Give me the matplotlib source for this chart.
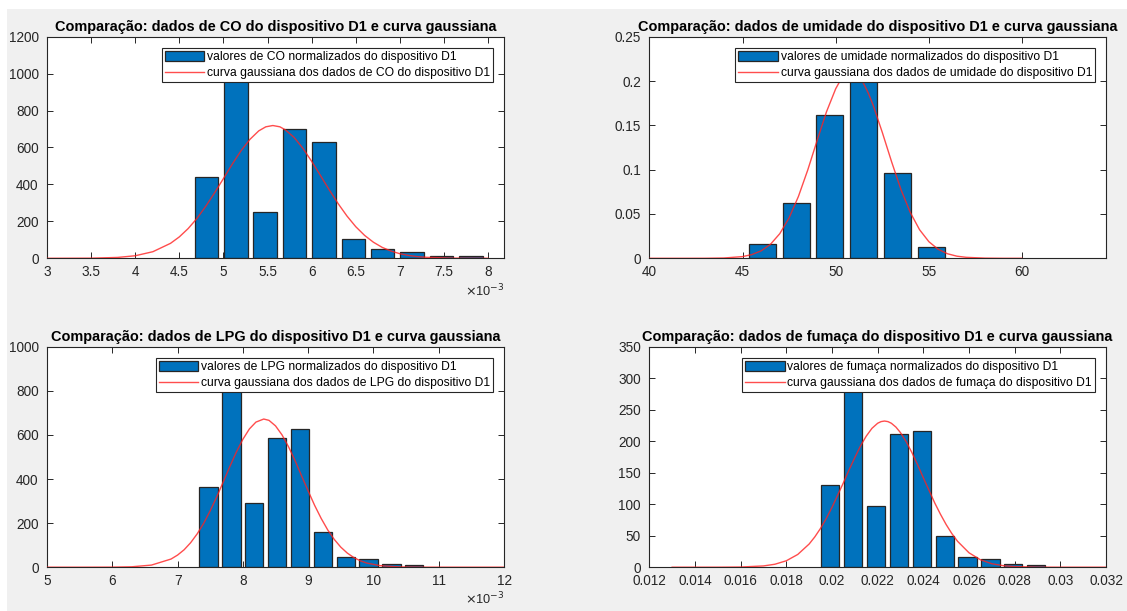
import matplotlib.pyplot as plt
from matplotlib.patches import Rectangle
from matplotlib.ticker import FuncFormatter
import numpy as np

plt.rcParams['font.family'] = ['Liberation Sans', 'DejaVu Sans']

# --- CO ---
co_centros = [4.807e-3, 5.140e-3, 5.473e-3, 5.806e-3, 6.139e-3, 6.472e-3, 6.805e-3, 7.138e-3, 7.471e-3, 7.804e-3]
co_valores = [440, 1040, 250, 700, 632, 104, 50, 33, 13, 11]
co_curva_x = [3.0e-3, 3.5e-3, 3.8e-3, 4.0e-3, 4.2e-3, 4.4e-3, 4.5e-3, 4.6e-3, 4.7e-3, 4.8e-3, 4.9e-3, 5.0e-3,
              5.1e-3, 5.2e-3, 5.3e-3, 5.4e-3, 5.48e-3, 5.56e-3, 5.64e-3, 5.7e-3, 5.8e-3, 5.9e-3, 6.0e-3,
              6.1e-3, 6.2e-3, 6.3e-3, 6.4e-3, 6.5e-3, 6.6e-3, 6.7e-3, 6.8e-3, 6.9e-3, 7.0e-3, 7.1e-3,
              7.2e-3, 7.3e-3, 7.6e-3, 8.0e-3]
co_curva_y = [0, 0.7, 4.7, 13.8, 35.7, 81, 116, 161, 216, 282, 355, 432,
              510, 583, 644, 690, 712, 719, 712, 696, 655, 596, 525,
              448, 370, 296, 229, 171, 124, 87, 59, 39, 24.8, 15.3,
              9.1, 5.3, 0.8, 0]

# --- umidade ---
um_centros = [46.08, 47.90, 49.66, 51.48, 53.30, 55.13]
um_valores = [0.0161, 0.0624, 0.1613, 0.21, 0.0962, 0.0128]
um_curva_x = [40, 42, 43, 44, 45, 45.5, 46, 46.5, 47, 47.5, 48, 48.5, 49, 49.5, 50, 50.25, 50.5, 50.65,
              50.82, 51, 51.25, 51.5, 51.75, 52, 52.5, 53, 53.5, 54, 54.5, 55, 55.5, 56, 56.5, 57, 58, 59, 60]
um_curva_y = [0, 0, 0.00004, 0.00034, 0.0019, 0.0042, 0.0084, 0.0158, 0.0278, 0.0456, 0.0698, 0.0996,
              0.1327, 0.165, 0.1913, 0.2008, 0.207, 0.2092, 0.21, 0.209, 0.2047, 0.197, 0.1863, 0.1732,
              0.142, 0.1088, 0.0776, 0.0517, 0.0322, 0.0187, 0.0101, 0.0051, 0.0024, 0.0011, 0.0002, 0, 0]

# --- LPG ---
lpg_centros = [7.475e-3, 7.825e-3, 8.175e-3, 8.525e-3, 8.875e-3, 9.225e-3, 9.575e-3, 9.925e-3, 10.275e-3, 10.625e-3]
lpg_valores = [363, 880, 291, 587, 627, 160, 46, 37, 16, 10]
lpg_curva_x = [5.0e-3, 5.5e-3, 6.0e-3, 6.3e-3, 6.6e-3, 6.9e-3, 7.0e-3, 7.1e-3, 7.2e-3, 7.3e-3, 7.4e-3,
               7.5e-3, 7.6e-3, 7.7e-3, 7.8e-3, 7.9e-3, 8.0e-3, 8.1e-3, 8.2e-3, 8.32e-3, 8.4e-3, 8.5e-3,
               8.6e-3, 8.7e-3, 8.8e-3, 8.9e-3, 9.0e-3, 9.1e-3, 9.2e-3, 9.3e-3, 9.4e-3, 9.5e-3, 9.6e-3,
               9.7e-3, 9.8e-3, 9.9e-3, 10.1e-3, 10.4e-3, 10.8e-3, 11.5e-3, 12.0e-3]
lpg_curva_y = [0, 0, 0.3, 1.9, 9.6, 37, 55, 79, 111, 151, 199,
               256, 319, 387, 456, 522, 580, 627, 658, 672, 666, 641,
               600, 546, 483, 414, 346, 280, 221, 169, 126, 91, 64,
               43.6, 28.9, 18.6, 7.1, 1.3, 0.1, 0, 0]

# --- fumaca ---
fu_centros = [0.01992, 0.02092, 0.02193, 0.02293, 0.02393, 0.02494, 0.02594, 0.02694, 0.02794, 0.02895]
fu_valores = [131, 300, 97, 212, 216, 50, 16, 13, 5, 3.5]
fu_curva_x = [0.013, 0.015, 0.016, 0.017, 0.0175, 0.018, 0.0185, 0.019, 0.01925, 0.0195, 0.01975, 0.020,
              0.0205, 0.02075, 0.021, 0.02125, 0.0215, 0.02175, 0.022, 0.02215, 0.0223, 0.02245, 0.0226,
              0.0228, 0.023, 0.02325, 0.0235, 0.02375, 0.024, 0.02425, 0.0245, 0.02475, 0.025, 0.02525,
              0.0255, 0.026, 0.0265, 0.027, 0.0275, 0.028, 0.029, 0.030, 0.032]
fu_curva_y = [0, 0.03, 0.28, 2.0, 4.7, 10.2, 20.2, 36.8, 48.2, 61.7, 77.3, 94.9,
              134, 154.6, 174, 192.6, 208, 220.4, 228.5, 231.1, 232, 231.1, 228.5,
              222.4, 213.6, 199.2, 182, 162.6, 142, 122, 102, 84.1, 67.7, 53.3,
              41.1, 22.9, 11.8, 5.5, 2.4, 1.0, 0.1, 0, 0]

W, H = 1127, 611
fig = plt.figure(figsize=(W / 100, H / 100), dpi=100, facecolor='white')
fig.patches.append(Rectangle((7 / W, 0), 1 - 7 / W, (H - 9) / H, transform=fig.transFigure,
                             facecolor='#f0f0f0', edgecolor='none', zorder=-10))

azul = '#0072BD'
cinza = '#262626'


def px_axes(left, top, right, bottom):
    return [left / W, 1 - bottom / H, (right - left) / W, (bottom - top) / H]


paineis = [
    dict(pos=px_axes(47, 36.7, 504, 258.3), nome='CO', c=co_centros, v=co_valores, cx=co_curva_x, cy=co_curva_y,
         larg=0.2664e-3, xlim=(3e-3, 8.18e-3), xt=np.arange(3, 8.01, 0.5) * 1e-3, ylim=(0, 1200),
         yt=range(0, 1201, 200), esc=1e3),
    dict(pos=px_axes(649.3, 36.7, 1106, 258.3), nome='umidade', c=um_centros, v=um_valores, cx=um_curva_x,
         cy=um_curva_y, larg=1.46, xlim=(40, 64.5), xt=range(40, 61, 5), ylim=(0, 0.25),
         yt=np.arange(0, 0.251, 0.05), esc=1),
    dict(pos=px_axes(47, 346.7, 504, 567.2), nome='LPG', c=lpg_centros, v=lpg_valores, cx=lpg_curva_x,
         cy=lpg_curva_y, larg=0.28e-3, xlim=(5e-3, 12e-3), xt=np.arange(5, 12.01, 1) * 1e-3, ylim=(0, 1000),
         yt=range(0, 1001, 200), esc=1e3),
    dict(pos=px_axes(649.3, 346.7, 1106, 567.2), nome='fumaça', c=fu_centros, v=fu_valores, cx=fu_curva_x,
         cy=fu_curva_y, larg=0.8e-3, xlim=(0.012, 0.032), xt=np.arange(0.012, 0.0321, 0.002), ylim=(0, 350),
         yt=range(0, 351, 50), esc=1),
]

for p in paineis:
    ax = fig.add_axes(p['pos'])
    ax.set_facecolor('white')
    barras = ax.bar(p['c'], p['v'], width=p['larg'], color=azul, edgecolor=cinza, linewidth=0.9, zorder=2,
                    label='valores de %s normalizados do dispositivo D1' % p['nome'])
    linha, = ax.plot(p['cx'], p['cy'], color='#ff2020', lw=1.0, alpha=0.8, zorder=3,
                     label='curva gaussiana dos dados de %s do dispositivo D1' % p['nome'])
    ax.set_xlim(*p['xlim'])
    ax.set_ylim(*p['ylim'])
    ax.set_xticks(p['xt'])
    ax.set_yticks(p['yt'])
    esc = p['esc']
    ax.xaxis.set_major_formatter(FuncFormatter(lambda v, pos, e=esc: '%g' % round(v * e, 6)))
    ax.yaxis.set_major_formatter(FuncFormatter(lambda v, pos: '%g' % round(v, 6)))
    ax.tick_params(direction='in', top=True, right=True, length=4, width=0.7, colors=cinza,
                   labelsize=9.8, pad=4)
    ax.tick_params(axis='y', pad=6)
    ax.tick_params(axis='x', pad=5)
    for s in ax.spines.values():
        s.set_color(cinza)
        s.set_linewidth(0.8)
    ax.set_title('Comparação: dados de %s do dispositivo D1 e curva gaussiana' % p['nome'],
                 fontsize=10.45, fontweight='bold', pad=4)
    if esc != 1:
        ax.text(1.0, -0.183, r'$\times$10$^{-3}$', transform=ax.transAxes, ha='right', va='bottom',
                fontsize=9.2, color=cinza)
    leg = ax.legend([barras, linha], [barras.get_label(), linha.get_label()],
                    loc='upper right', bbox_to_anchor=(0.976, 0.948), borderaxespad=0, fontsize=8.7,
                    fancybox=False, framealpha=1, edgecolor=cinza, handlelength=3.3, handleheight=0.9,
                    handletextpad=0.2, labelspacing=0.3, borderpad=0.25)
    leg.get_frame().set_linewidth(0.8)
    leg.set_zorder(5)

fig.savefig('out.png', dpi=100, facecolor=fig.get_facecolor())
